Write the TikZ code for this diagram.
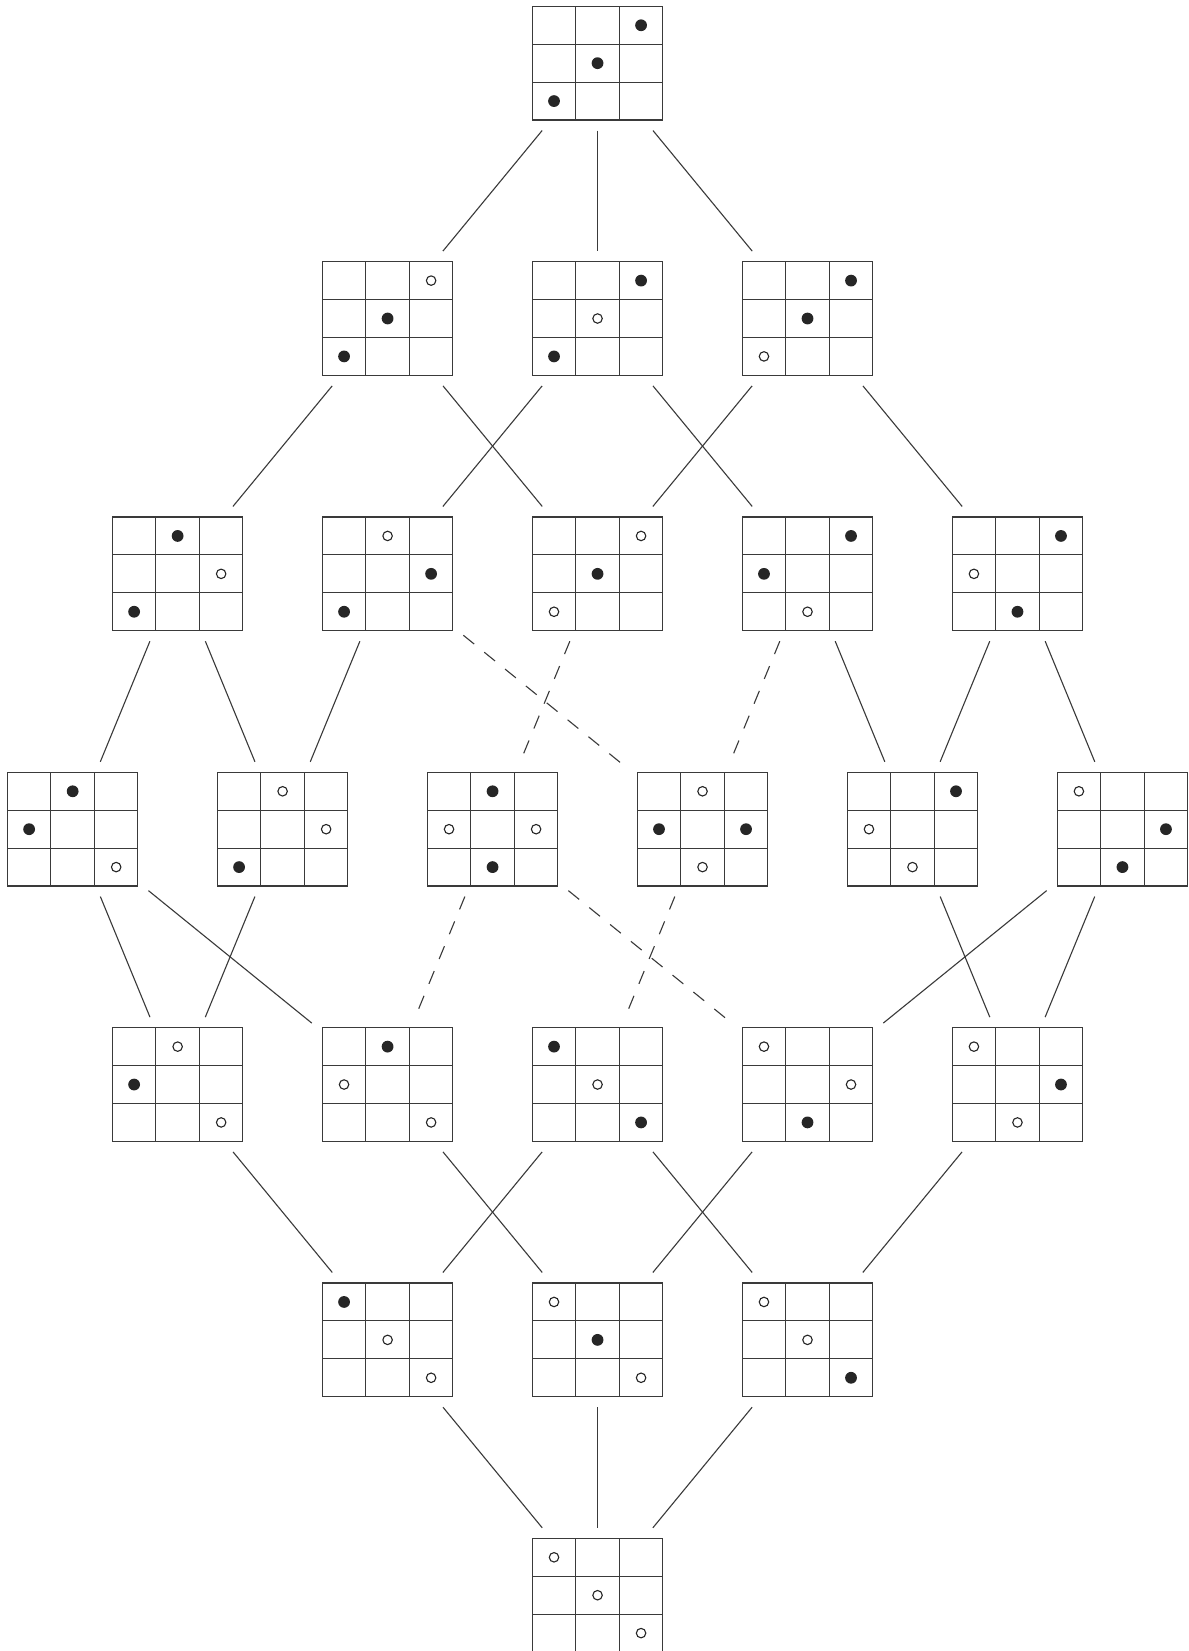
\documentclass[tikz,border=0pt]{standalone}
\usepackage{xcolor}
\usepackage{tikz}
\usetikzlibrary{calc}
\definecolor{BoardInk}{HTML}{262626}
\definecolor{BoardRule}{HTML}{3A3A3A}

\tikzset{
  board/.style={minimum width=2.48cm,minimum height=2.16cm,inner sep=0pt,outer sep=0.2cm},
  cellline/.style={BoardRule,line width=0.6pt},
  link/.style={BoardRule,line width=0.6pt},
  weaklink/.style={link,dash pattern=on 7.5pt off 7pt},
  bead/.style={fill=BoardInk,radius=0.112cm},
  ring/.style={draw=BoardInk,line width=0.6pt,radius=0.09cm},
}

\newcommand{\board}[4]{%
  \node[board] (#1) at (#2,#3) {};
  \begin{scope}[shift={($(#1.center)+(-1.24cm,1.08cm)$)},x=0.8267cm,y=-0.72cm]
    \foreach \i in {0,...,3} {
      \draw[cellline] (\i,0) -- (\i,3);
      \draw[cellline] (0,\i) -- (3,\i);
    }
    \foreach \c/\r/\k in {#4}
      \path[\k] (\c-0.5,\r-0.5) circle;
  \end{scope}}

\begin{document}
\begin{tikzpicture}[x=1.994cm,y=-4.85cm]
  \useasboundingbox (-1.38cm,1.20cm) rectangle (21.20cm,-30.16cm);

  \board{g0}{5}{0}{3/1/bead,2/2/bead,1/3/bead}

  \board{g1a}{3}{1}{3/1/ring,2/2/bead,1/3/bead}
  \board{g1b}{5}{1}{3/1/bead,2/2/ring,1/3/bead}
  \board{g1c}{7}{1}{3/1/bead,2/2/bead,1/3/ring}

  \board{g2a}{1}{2}{2/1/bead,3/2/ring,1/3/bead}
  \board{g2b}{3}{2}{2/1/ring,3/2/bead,1/3/bead}
  \board{g2c}{5}{2}{3/1/ring,2/2/bead,1/3/ring}
  \board{g2d}{7}{2}{3/1/bead,1/2/bead,2/3/ring}
  \board{g2e}{9}{2}{3/1/bead,1/2/ring,2/3/bead}

  \board{g3a}{0}{3}{2/1/bead,1/2/bead,3/3/ring}
  \board{g3b}{2}{3}{2/1/ring,3/2/ring,1/3/bead}
  \board{g3c}{4}{3}{2/1/bead,1/2/ring,3/2/ring,2/3/bead}
  \board{g3d}{6}{3}{2/1/ring,1/2/bead,3/2/bead,2/3/ring}
  \board{g3e}{8}{3}{3/1/bead,1/2/ring,2/3/ring}
  \board{g3f}{10}{3}{1/1/ring,3/2/bead,2/3/bead}

  \board{g4a}{1}{4}{2/1/ring,1/2/bead,3/3/ring}
  \board{g4b}{3}{4}{2/1/bead,1/2/ring,3/3/ring}
  \board{g4c}{5}{4}{1/1/bead,2/2/ring,3/3/bead}
  \board{g4d}{7}{4}{1/1/ring,3/2/ring,2/3/bead}
  \board{g4e}{9}{4}{1/1/ring,3/2/bead,2/3/ring}

  \board{g5a}{3}{5}{1/1/bead,2/2/ring,3/3/ring}
  \board{g5b}{5}{5}{1/1/ring,2/2/bead,3/3/ring}
  \board{g5c}{7}{5}{1/1/ring,2/2/ring,3/3/bead}

  \board{g6}{5}{6}{1/1/ring,2/2/ring,3/3/ring}

  \foreach \a/\b in {g0/g1a,g0/g1b,g0/g1c,
      g1a/g2a,g1a/g2c,g1b/g2b,g1b/g2d,g1c/g2c,g1c/g2e,
      g2a/g3a,g2a/g3b,g2b/g3b,g2d/g3e,g2e/g3e,g2e/g3f,
      g3a/g4a,g3a/g4b,g3b/g4a,g3e/g4e,g3f/g4d,g3f/g4e,
      g4a/g5a,g4b/g5b,g4c/g5a,g4c/g5c,g4d/g5b,g4e/g5c,
      g5a/g6,g5b/g6,g5c/g6}
    \draw[link] (\a) -- (\b);
  \foreach \a/\b in {g2b/g3d,g2c/g3c,g2d/g3d,g3c/g4b,g3c/g4d,g3d/g4c}
    \draw[weaklink] (\a) -- (\b);
\end{tikzpicture}
\end{document}
